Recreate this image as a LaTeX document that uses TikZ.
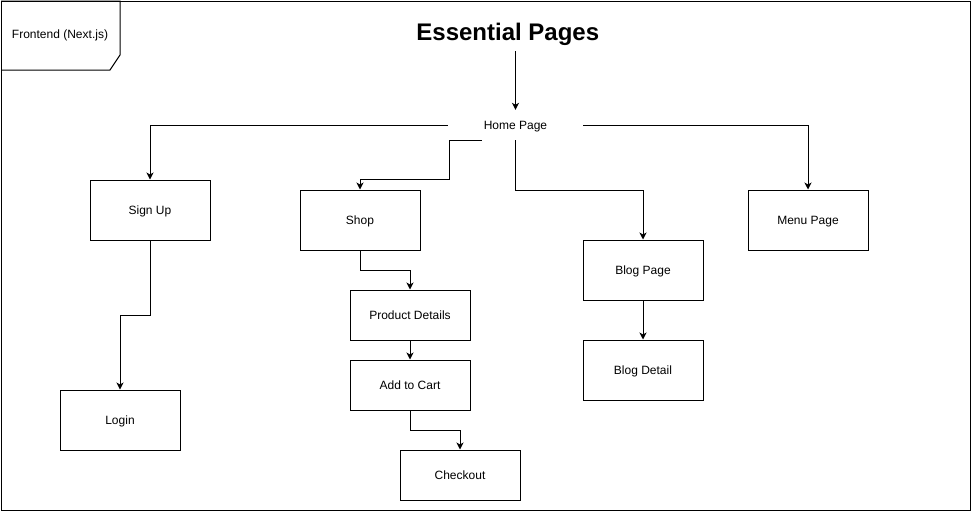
\documentclass[tikz,border=0pt]{standalone}
\usepackage{fontspec}
\setmainfont{Liberation Sans}
\usetikzlibrary{arrows.meta,calc}
\begin{document}
\begin{tikzpicture}[x=1pt,y=-1pt,
  every node/.style={font=\fontsize{12}{14}\selectfont, text=black, text height=8.6pt, text depth=0pt},
  pagebox/.style={draw=black, line width=1pt, minimum width=120pt, minimum height=60pt, inner sep=0pt},
  smallbox/.style={pagebox, minimum height=50pt},
  conn/.style={draw=black, line width=1pt, -{Stealth[length=7pt,width=7pt,inset=2pt]}},
  framestyle/.style={draw=black, line width=1pt}
]
\useasboundingbox (0,0) rectangle (972,512);
% outer frame
\draw[framestyle] (1,1) rectangle (970,510);
\draw[framestyle] (1,1) -- (120,1) -- (120,55) -- (110,70) -- (1,70);
\node (framelabel) at (60,34.5) {Frontend (Next.js)};
% title
\node[font=\bfseries\fontsize{24}{28}\selectfont, anchor=base, text height=17pt, text depth=5pt, inner sep=0pt] (title) at (507.8,40.7) {Essential Pages};
\coordinate (tbot) at (515.5,51);
% home
\node[minimum width=135pt, minimum height=30pt, inner sep=0pt] (home) at (515.5,125) {Home Page};
% boxes
\node[pagebox] (signup) at (150,210) {Sign Up};
\node[pagebox] (login) at (120,420) {Login};
\node[pagebox] (shop) at (360,220) {Shop};
\node[smallbox] (pd) at (410,315) {Product Details};
\node[smallbox] (atc) at (410,385) {Add to Cart};
\node[smallbox] (co) at (460,475) {Checkout};
\node[pagebox] (blog) at (643,270) {Blog Page};
\node[pagebox] (bd) at (643,370) {Blog Detail};
\node[pagebox] (menu) at (808,220) {Menu Page};
% connectors
\draw[conn] (tbot) -- (home.north);
\draw[conn] (home.west) -| (signup.north);
\draw[conn] (home.east) -| (menu.north);
\coordinate (hq) at ($(home.south west)!0.25!(home.south east)$);
\draw[conn] (hq) -- ++(-32,0) |- ($(shop.north)+(0,-10)$) -- (shop.north);
\draw[conn] (home.south) -- ++(0,50) -| (blog.north);
\draw[conn] (signup.south) -- ++(0,75) -| (login.north);
\draw[conn] (shop.south) -- ++(0,20) -| (pd.north);
\draw[conn] (pd.south) -- (atc.north);
\draw[conn] (atc.south) -- ++(0,20) -| (co.north);
\draw[conn] (blog.south) -- (bd.north);
\end{tikzpicture}
\end{document}
